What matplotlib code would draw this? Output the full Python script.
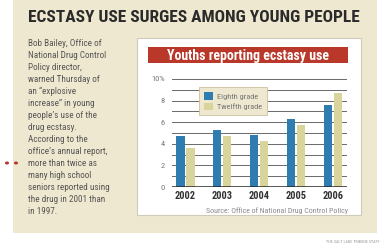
import matplotlib
matplotlib.use("Agg")
import matplotlib.pyplot as plt
from matplotlib import font_manager
from matplotlib.patches import Rectangle
import numpy as np

years = ["2002", "2003", "2004", "2005", "2006"]
eighth = [4.7, 5.3, 4.8, 6.3, 7.6]
twelfth = [3.6, 4.7, 4.3, 5.7, 8.7]
yticks = [0, 2, 4, 6, 8, 10]
ytick_labels = ["0", "2", "4", "6", "8", "10%"]

headline = "ECSTASY USE SURGES AMONG YOUNG PEOPLE"
chart_title = "Youths reporting ecstasy use"
source = "Source: Office of National Drug Control Policy"
body = ("Bob Bailey, Office of\nNational Drug Control\nPolicy director,\n"
        "warned Thursday of\nan \u201cexplosive\nincrease\u201d in young\n"
        "people\u2019s use of the\ndrug ecstasy.\nAccording to the\n"
        "office\u2019s annual report,\nmore than twice as\nmany high school\n"
        "seniors reported using\nthe drug in 2001 than\nin 1997.")
credit = "THE SALT LAKE TRIBUNE STAFF"

names = {f.name for f in font_manager.fontManager.ttflist}
cands = ["Roboto Condensed", "Open Sans Condensed", "Fira Sans Condensed",
         "IBM Plex Sans Condensed", "Liberation Sans Narrow", "Archivo Narrow"]
cond = next((c for c in cands if c in names), "DejaVu Sans")
narrow = [cond, "DejaVu Sans"]

W, H = 384, 247
CREAM = "#efe8d0"
BLUE = "#2f7db0"
OLIVE = "#d9d49b"
RED = "#b9382a"

fig = plt.figure(figsize=(W / 100, H / 100), dpi=100)
fig.patch.set_facecolor("white")

def box(x0, y0, x1, y1, **kw):
    fig.patches.append(Rectangle((x0 / W, 1 - y1 / H), (x1 - x0) / W, (y1 - y0) / H,
                                 transform=fig.transFigure, **kw))

def fx(x):
    return x / W

def fy(y):
    return 1 - y / H

box(13, 0, 377, 233, facecolor=CREAM, edgecolor="none", zorder=0)
box(137, 38, 361, 215, facecolor="white", edgecolor="#cfcabc", linewidth=0.8, zorder=1)
box(148, 47, 348, 63, facecolor=RED, edgecolor="none", zorder=2)

fig.text(fx(28), fy(17), headline, fontsize=12.5, fontweight="bold", family=narrow,
         color="#2a2a2a", va="center", ha="left")
fig.text(fx(248), fy(55.5), chart_title, fontsize=10, fontweight="bold", family=narrow,
         color="white", va="center", ha="center", zorder=3)
fig.text(fx(28), fy(38.5), body, fontsize=6.6, family=narrow, color="#555555",
         va="top", ha="left", linespacing=1.43)
fig.text(fx(348), fy(211), source, fontsize=5.7, family=narrow, color="#8a8a8a",
         va="center", ha="right")
fig.text(fx(379), fy(242), credit, fontsize=3, family=narrow, color="#9a9a9a",
         va="center", ha="right")
for xd in (7, 16):
    fig.patches.append(plt.Circle((fx(xd), fy(163)), 1.3 / W, transform=fig.transFigure,
                                  color="#b33a2a", zorder=3))

ax = fig.add_axes([fx(172), fy(187), (347 - 172) / W, (187 - 79) / H], zorder=4)
ax.set_facecolor("none")
x = np.arange(len(years))
bw = 0.23
ax.bar(x - 0.135, eighth, width=bw, color=BLUE, label="Eighth grade", zorder=3)
ax.bar(x + 0.135, twelfth, width=bw, color=OLIVE, label="Twelfth grade", zorder=3)
ax.set_xlim(-0.36, 4.38)
ax.set_ylim(0, 10)
for g in range(1, 11):
    ax.axhline(g, color="#6a6a6a", linewidth=0.7, zorder=1)
ax.axhline(0, color="#222222", linewidth=1.8, zorder=4)
for s in ax.spines.values():
    s.set_visible(False)
ax.set_yticks(yticks)
ax.set_yticklabels(ytick_labels, fontsize=6, color="#777777", family=narrow)
ax.set_xticks(x)
ax.set_xticklabels(years, fontsize=7.5, fontweight="bold", color="#333333", family=narrow)
ax.tick_params(axis="both", length=0, pad=5)
ax.tick_params(axis="x", pad=3)

leg = ax.legend(loc="upper left", bbox_to_anchor=((195 - 172) / 175, (187 - 83) / 108),
                frameon=True, fancybox=False, handlelength=1.0,
                handleheight=1.0, handletextpad=0.5, borderpad=0.6, labelspacing=0.35,
                prop={"family": narrow, "size": 6})
leg.get_frame().set_facecolor(CREAM)
leg.get_frame().set_edgecolor("#cdbf9c")
leg.get_frame().set_linewidth(0.6)
leg.get_frame().set_alpha(1)
for t in leg.get_texts():
    t.set_color("#777777")
leg.set_zorder(6)

fig.savefig("out.png", dpi=100, facecolor=fig.get_facecolor())
